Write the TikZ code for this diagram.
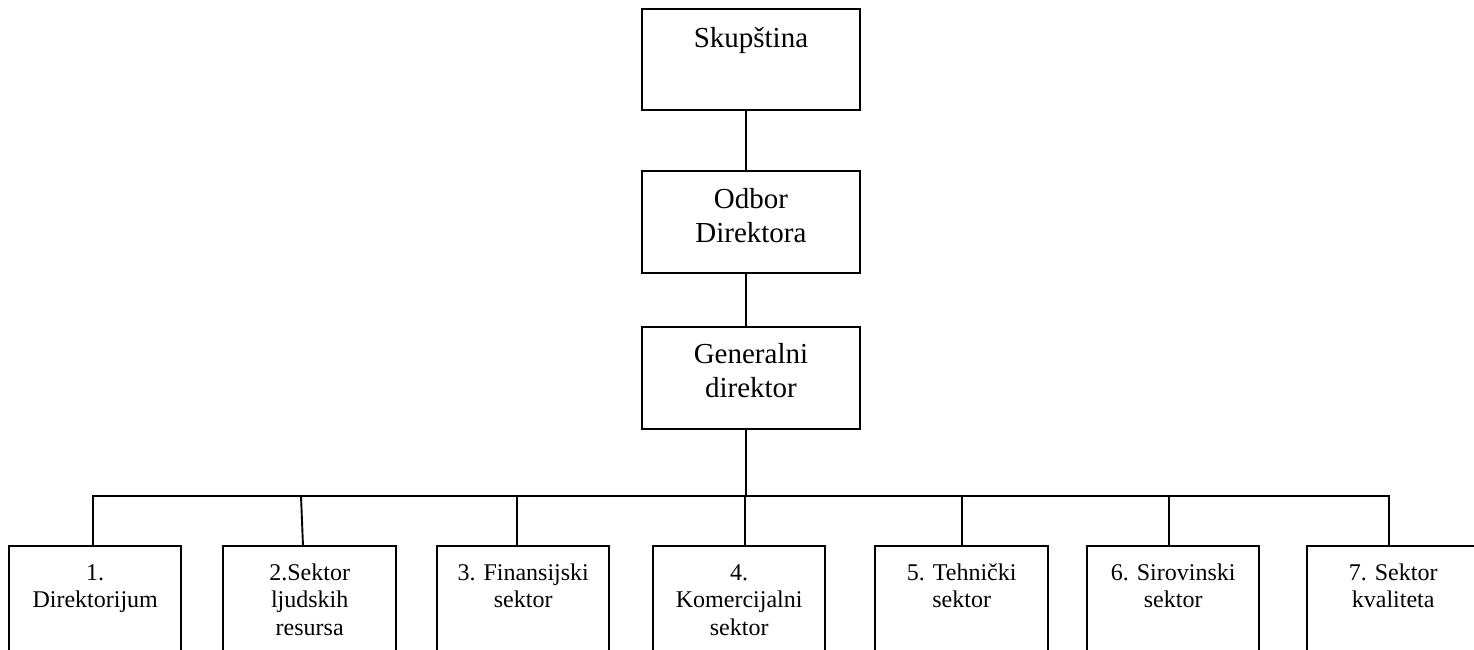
\documentclass[tikz,border=0pt]{standalone}
\usepackage{fontspec}
\setmainfont{Liberation Serif}
\usetikzlibrary{calc}
\newcommand\mytxt[2]{\parbox[t]{#1}{\centering #2}}
\tikzset{
  lw/.style={line width=1.9pt},
  topbox/.style={draw, lw, minimum width=218pt, minimum height=102pt, inner sep=0pt, anchor=north west},
  botbox/.style={draw=none, minimum width=172pt, minimum height=130pt, inner sep=0pt, anchor=north west},
  ttxt/.style={anchor=base, inner sep=0pt, font=\fontsize{29pt}{34pt}\selectfont},
  btxt/.style={anchor=base, inner sep=0pt, font=\fontsize{24pt}{27.5pt}\selectfont},
  side/.style={lw, line join=miter}
}
\begin{document}
\begin{tikzpicture}[x=1pt,y=-1pt]
\useasboundingbox[fill=white] (0,0) rectangle (1474,649);
% top boxes
\node[topbox, minimum height=101pt] (sk) at (641,8) {};
\node[topbox] (od) at (641,170) {};
\node[topbox] (gd) at (641,326) {};
\node[ttxt] at ($(sk.north)+(0,39)$) {\mytxt{210pt}{Skupština}};
\node[ttxt] at ($(od.north)+(0,38)$) {\mytxt{210pt}{Odbor\\Direktora}};
\node[ttxt] at ($(gd.north)+(0,37)$) {\mytxt{210pt}{Generalni\\direktor}};
% connectors between top boxes
\coordinate (vx) at (746,496);
\draw[lw] (vx |- sk.south) -- (vx |- od.north);
\draw[lw] (vx |- od.south) -- (vx |- gd.north);
\draw[lw] (vx |- gd.south) -- (vx);
% bottom boxes
\node[botbox, minimum width=172pt] (b1) at (9,546) {};
\node[botbox, minimum width=173pt] (b2) at (223,546) {};
\node[botbox, minimum width=172pt] (b3) at (437,546) {};
\node[botbox, minimum width=172pt] (b4) at (653,546) {};
\node[botbox, minimum width=173pt] (b5) at (875,546) {};
\node[botbox, minimum width=172pt] (b6) at (1087,546) {};
\node[botbox, minimum width=172pt] (b7) at (1307,546) {};
\foreach \b in {b1,b2,b3,b4,b5,b6,b7}{
  \draw[side] (\b.south west) -- (\b.north west) -- (\b.north east) -- (\b.south east);
}
\node[btxt] at ($(b1.north)+(0,34)$) {\mytxt{170pt}{1.\\Direktorijum}};
\node[btxt] at ($(b2.north)+(0,34)$) {\mytxt{170pt}{2.Sektor\\ljudskih\\resursa}};
\node[btxt] at ($(b3.north)+(0,34)$) {\mytxt{170pt}{3. Finansijski\\sektor}};
\node[btxt] at ($(b4.north)+(0,34)$) {\mytxt{170pt}{4.\\Komercijalni\\sektor}};
\node[btxt] at ($(b5.north)+(0,34)$) {\mytxt{170pt}{5. Tehnički\\sektor}};
\node[btxt] at ($(b6.north)+(0,34)$) {\mytxt{170pt}{6. Sirovinski\\sektor}};
\node[btxt] at ($(b7.north)+(0,34)$) {\mytxt{170pt}{7. Sektor\\kvaliteta}};
% bus and drops
\coordinate (d1) at (93,496);
\coordinate (d2) at (301,496);
\coordinate (d3) at (517,496);
\coordinate (d4) at (745,496);
\coordinate (d5) at (962,496);
\coordinate (d6) at (1169,496);
\coordinate (d7) at (1389,496);
\draw[lw, line join=miter] (d1 |- b1.north) -- (d1) -- (d7) -- (d7 |- b7.north);
\draw[lw] (d2) -- ($(d2 |- b2.north)+(2,0)$);
\draw[lw] (d3) -- (d3 |- b3.north);
\draw[lw] (d4) -- (d4 |- b4.north);
\draw[lw] (d5) -- (d5 |- b5.north);
\draw[lw] (d6) -- (d6 |- b6.north);
\end{tikzpicture}
\end{document}
